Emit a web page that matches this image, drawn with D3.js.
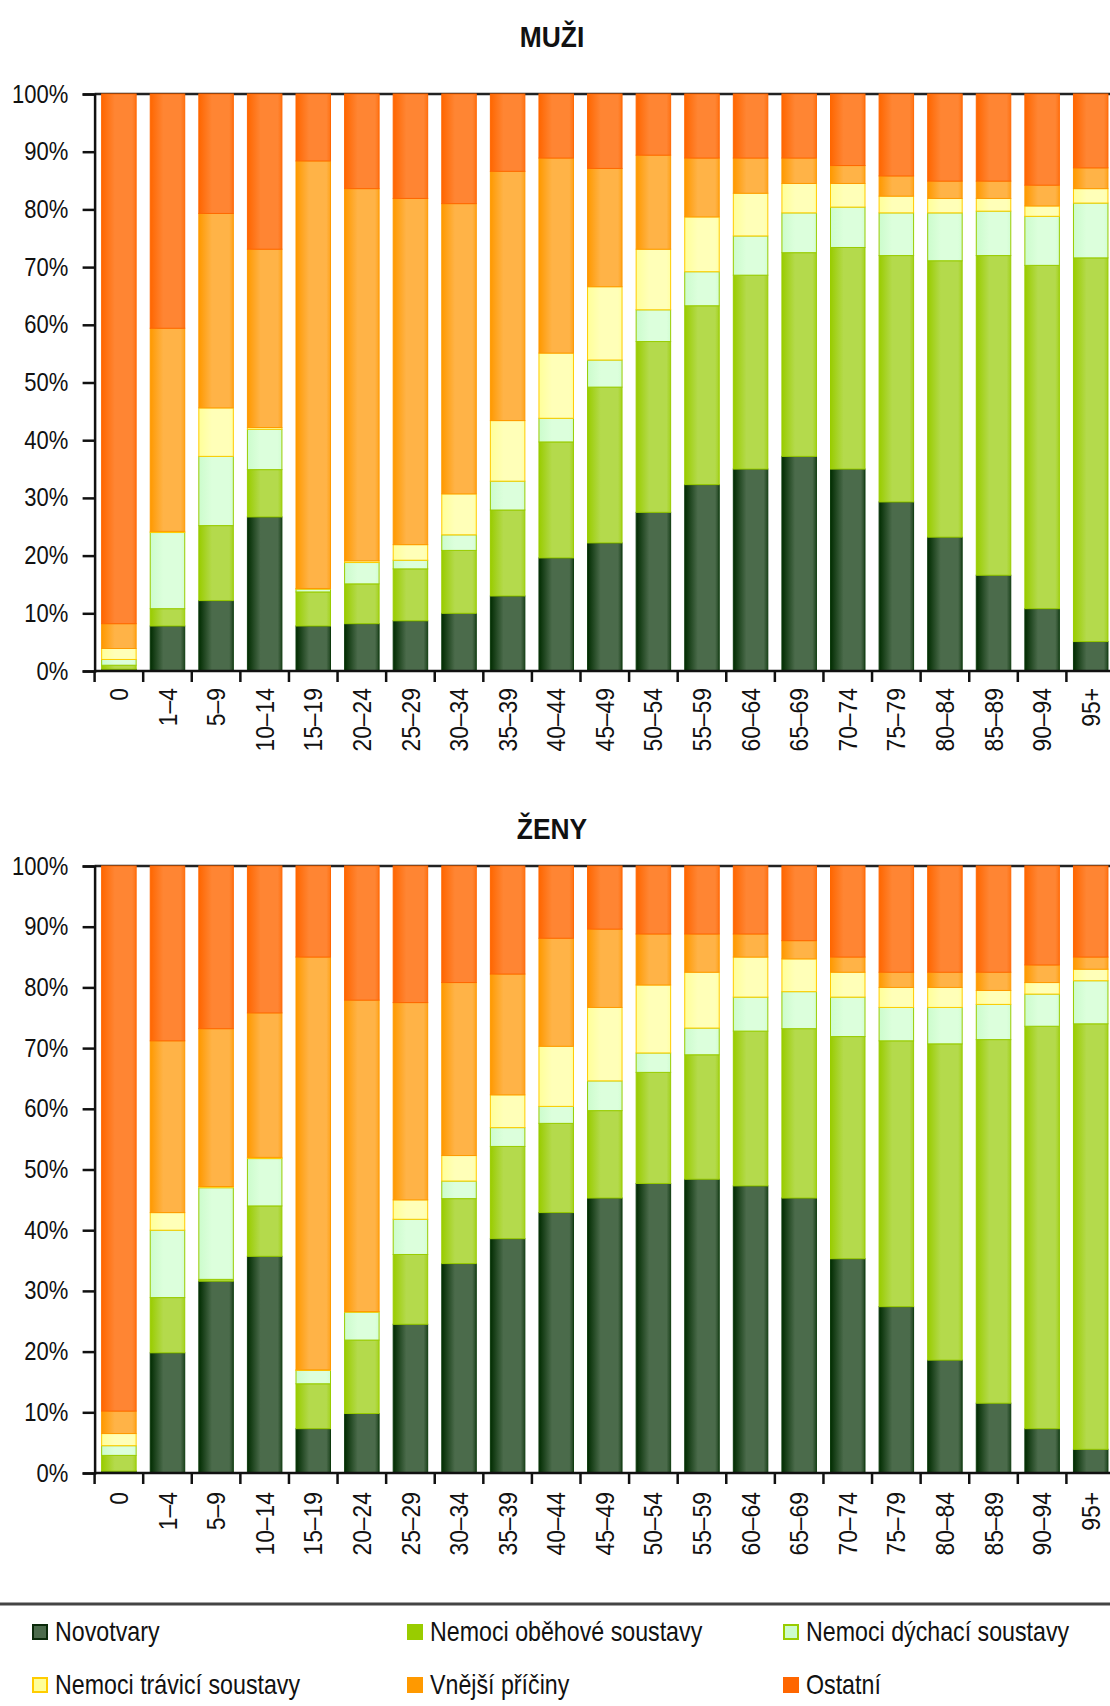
<!DOCTYPE html>
<html>
<head>
<meta charset="utf-8">
<script src="https://cdn.jsdelivr.net/npm/d3@7"></script>
<style>
  body { margin: 0; background: #fff; }
  svg text { font-family: "Liberation Sans", Arial, sans-serif; fill: #111; }
</style>
</head>
<body>
<div id="canvas"></div>
<script>
// age groups
const ageGroups = ["0", "1–4", "5–9", "10–14", "15–19", "20–24", "25–29", "30–34", "35–39", "40–44",
  "45–49", "50–54", "55–59", "60–64", "65–69", "70–74", "75–79", "80–84", "85–89", "90–94", "95+"];

const seriesNames = ["Novotvary", "Nemoci oběhové soustavy", "Nemoci dýchací soustavy",
  "Nemoci trávicí soustavy", "Vnější příčiny", "Ostatní"];

// MUŽI, share in %
const muziNovotvary = [0.3, 7.8, 12.2, 26.7, 7.8, 8.2, 8.7, 10.0, 13.0, 19.6, 22.2, 27.5, 32.3, 35.0, 37.2, 35.0, 29.3, 23.2, 16.6, 10.8, 5.1];
const muziObehove   = [0.7, 3.0, 13.0, 8.2, 5.9, 6.9, 9.0, 10.9, 14.9, 20.1, 27.0, 29.6, 31.0, 33.6, 35.3, 38.4, 42.7, 47.9, 55.4, 59.5, 66.5];
const muziDychaci   = [1.0, 13.2, 12.0, 7.0, 0.5, 3.7, 1.5, 2.7, 5.0, 4.1, 4.7, 5.5, 5.9, 6.8, 6.9, 7.0, 7.4, 8.3, 7.7, 8.5, 9.5];
const muziTravici   = [1.9, 0.2, 8.4, 0.3, 0.1, 0.3, 2.7, 7.1, 10.5, 11.3, 12.7, 10.5, 9.5, 7.4, 5.1, 4.1, 2.9, 2.5, 2.2, 1.8, 2.5];
const muziVnejsi    = [4.3, 35.2, 33.7, 30.9, 74.1, 64.5, 60.0, 50.3, 43.2, 33.8, 20.5, 16.3, 10.2, 6.1, 4.4, 3.1, 3.5, 3.0, 3.0, 3.6, 3.6];
const muziOstatni   = [91.8, 40.6, 20.7, 26.9, 11.6, 16.4, 18.1, 19.0, 13.4, 11.1, 12.9, 10.6, 11.1, 11.1, 11.1, 12.4, 14.2, 15.1, 15.1, 15.8, 12.8];

// ŽENY, share in %
const zenyNovotvary = [0.3, 19.8, 31.6, 35.7, 7.3, 9.8, 24.5, 34.5, 38.6, 42.9, 45.3, 47.7, 48.4, 47.3, 45.3, 35.3, 27.4, 18.6, 11.5, 7.3, 3.9];
const zenyObehove   = [2.6, 9.1, 0.3, 8.3, 7.4, 12.1, 11.5, 10.7, 15.2, 14.7, 14.4, 18.3, 20.5, 25.5, 27.9, 36.6, 43.8, 52.1, 59.9, 66.3, 70.1];
const zenyDychaci   = [1.6, 11.1, 15.1, 7.8, 2.2, 4.6, 5.8, 2.9, 3.1, 2.8, 4.9, 3.2, 4.4, 5.6, 6.1, 6.5, 5.5, 6.0, 5.8, 5.3, 7.1];
const zenyTravici   = [2.0, 2.9, 0.2, 0.2, 0.1, 0.1, 3.2, 4.2, 5.4, 9.9, 12.1, 11.2, 9.2, 6.6, 5.4, 4.1, 3.3, 3.3, 2.3, 1.9, 1.9];
const zenyVnejsi    = [3.7, 28.3, 26.0, 23.8, 68.0, 51.3, 32.5, 28.5, 19.9, 17.8, 12.9, 8.4, 6.3, 3.8, 3.0, 2.5, 2.5, 2.5, 3.0, 2.9, 2.0];
const zenyOstatni   = [89.8, 28.8, 26.8, 24.2, 15.0, 22.1, 22.5, 19.2, 17.8, 11.9, 10.4, 11.2, 11.2, 11.2, 12.3, 15.0, 17.5, 17.5, 17.5, 16.3, 15.0];

const yTicks = [0, 10, 20, 30, 40, 50, 60, 70, 80, 90, 100];

// colours: [edge, light, stroke]
const colors = [
  ["#012c01", "#4b6b4b", "#0d3a0d"],
  ["#99cc00", "#b4da4c", "#99cc00"],
  ["#ccfccc", "#dcffdc", "#99cc00"],
  ["#ffff99", "#ffffb8", "#ffcc00"],
  ["#ff9900", "#ffb347", "#ff9900"],
  ["#ff6600", "#ff8533", "#ff6600"]
];

const W = 1110, H = 1706;
const plotLeft = 94.6, plotRight = 1115;
const narrow = 0.88;   // the original font is a condensed one

const svg = d3.select("#canvas").append("svg")
  .attr("width", W).attr("height", H)
  .attr("viewBox", `0 0 ${W} ${H}`);

let defs = svg.append("defs");
colors.forEach(function(c, i) {
  let g = defs.append("linearGradient").attr("id", "grad" + i)
    .attr("x1", "0%").attr("x2", "100%").attr("y1", "0%").attr("y2", "0%");
  g.append("stop").attr("offset", "0%").attr("stop-color", c[0]);
  g.append("stop").attr("offset", "38%").attr("stop-color", c[1]);
  g.append("stop").attr("offset", "88%").attr("stop-color", c[1]);
  g.append("stop").attr("offset", "100%").attr("stop-color", d3.interpolateRgb(c[0], c[1])(0.4));
});

function drawChart(title, titleY, top, bottom, labelTop, seriesData) {
  const x = d3.scaleBand()
    .domain(ageGroups)
    .range([plotLeft, plotRight])
    .paddingInner(0.29)
    .paddingOuter(0.145);

  const y = d3.scaleLinear().domain([0, 100]).range([bottom, top]);

  const rows = ageGroups.map(function(a, i) {
    let r = { age: a };
    seriesNames.forEach(function(s, k) { r[s] = seriesData[k][i]; });
    return r;
  });
  const stacked = d3.stack().keys(seriesNames)(rows);

  let chart = svg.append("g");

  chart.append("text")
    .attr("transform", "translate(552," + titleY + ") scale(" + narrow + ",1)")
    .attr("text-anchor", "middle")
    .style("font-size", "30px").style("font-weight", "bold")
    .text(title);

  // top border of plot area
  chart.append("line")
    .attr("x1", plotLeft).attr("x2", plotRight)
    .attr("y1", y(100)).attr("y2", y(100))
    .attr("stroke", "#222").attr("stroke-width", 2.5);

  stacked.forEach(function(layer, k) {
    chart.append("g")
      .selectAll("rect")
      .data(layer)
      .enter()
        .append("rect")
        .attr("x", function(d) { return x(d.data.age); })
        .attr("width", x.bandwidth())
        .attr("y", function(d) { return y(d[1]); })
        .attr("height", function(d) { return Math.max(0, y(d[0]) - y(d[1])); })
        .attr("fill", "url(#grad" + k + ")")
        .attr("stroke", colors[k][2])
        .attr("stroke-width", 1);
  });

  // y axis
  let yAxis = chart.append("g")
    .attr("transform", "translate(" + plotLeft + ",0)")
    .call(d3.axisLeft(y).tickValues(yTicks).tickSize(12).tickPadding(18)
      .tickFormat(function(d) { return d + "%"; }));
  yAxis.select(".domain").attr("stroke", "#111").attr("stroke-width", 2.5);
  yAxis.selectAll(".tick line").attr("stroke", "#111").attr("stroke-width", 2.5);
  yAxis.selectAll("text")
    .style("font-size", "25px")
    .attr("fill", "#1a1a2a")
    .attr("transform", "scale(" + narrow + ",1)")
    .style("font-family", null);

  // x axis: line, boundary ticks, rotated labels
  const step = x.step();
  chart.append("line")
    .attr("x1", plotLeft).attr("x2", plotRight)
    .attr("y1", bottom).attr("y2", bottom)
    .attr("stroke", "#111").attr("stroke-width", 2.5);

  chart.append("g").selectAll("line")
    .data(d3.range(ageGroups.length + 1))
    .enter()
      .append("line")
      .attr("x1", function(k) { return plotLeft + k * step; })
      .attr("x2", function(k) { return plotLeft + k * step; })
      .attr("y1", bottom).attr("y2", bottom + 11)
      .attr("stroke", "#111").attr("stroke-width", 2.5);

  chart.append("g").selectAll("text")
    .data(ageGroups)
    .enter()
      .append("text")
      .attr("transform", function(d) {
        return "translate(" + (x(d) + x.bandwidth() / 2) + "," + labelTop + ") rotate(-90) scale(" + narrow + ",1)";
      })
      .attr("text-anchor", "end")
      .attr("dy", "0.35em")
      .style("font-size", "26px")
      .attr("fill", "#1a1a2a")
      .text(function(d) { return d; });
}

drawChart("MUŽI", 47, 94, 671, 688,
  [muziNovotvary, muziObehove, muziDychaci, muziTravici, muziVnejsi, muziOstatni]);
drawChart("ŽENY", 839, 866, 1473, 1492,
  [zenyNovotvary, zenyObehove, zenyDychaci, zenyTravici, zenyVnejsi, zenyOstatni]);

// legend
svg.append("line")
  .attr("x1", 0).attr("x2", W)
  .attr("y1", 1604).attr("y2", 1604)
  .attr("stroke", "#444").attr("stroke-width", 3);

const legendX = [33, 408, 784];
const legendY = [1632, 1685];
let legend = svg.append("g").selectAll("g")
  .data(seriesNames)
  .enter()
    .append("g")
    .attr("transform", function(d, i) {
      return "translate(" + legendX[i % 3] + "," + legendY[Math.floor(i / 3)] + ")";
    });

legend.append("rect")
  .attr("x", 0).attr("y", -7)
  .attr("width", 14).attr("height", 14)
  .attr("fill", function(d, i) { return colors[i][i === 0 ? 1 : 0]; })
  .attr("stroke", function(d, i) { return i === 0 ? "#0a2a0a" : colors[i][2]; })
  .attr("stroke-width", 2);

legend.append("text")
  .attr("transform", "translate(22,0) scale(0.86,1)")
  .attr("dy", "0.35em")
  .style("font-size", "27px")
  .attr("fill", "#1a1a2a")
  .text(function(d) { return d; });
</script>
</body>
</html>
